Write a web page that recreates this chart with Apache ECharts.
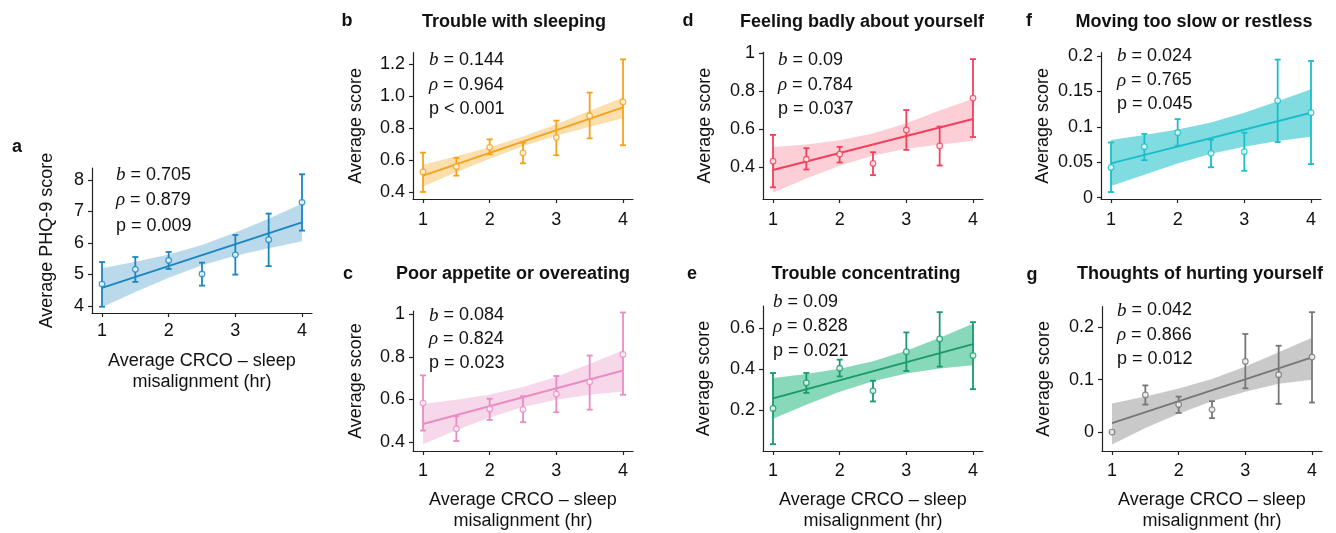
<!DOCTYPE html>
<html>
<head>
<meta charset="utf-8">
<script src="https://cdn.jsdelivr.net/npm/echarts@6/dist/echarts.min.js"></script>
<style>
html,body{margin:0;padding:0;background:#fff;}
#chart{width:1336px;height:533px;}
</style>
</head>
<body>
<div id="chart"></div>
<script>
// ---------- DATA ----------
const xs = [1, 1.5, 2, 2.5, 3, 3.5, 4];
const xTicks = ['1', '2', '3', '4'];
const xName = 'Average CRCO \u2013 sleep\nmisalignment (hr)';

// a: PHQ-9
const meanA = [4.69, 5.16, 5.44, 5.01, 5.62, 6.10, 7.29];
const lowA = [3.97, 4.76, 5.17, 4.64, 4.99, 5.26, 6.39];
const highA = [5.39, 5.55, 5.71, 5.37, 6.25, 6.93, 8.18];
const fitA = [4.57, 6.65];
const bandLoA = [3.95, 4.44, 4.89, 5.29, 5.59, 5.83, 6.05];
const bandHiA = [5.19, 5.40, 5.63, 5.93, 6.33, 6.77, 7.25];
const ticksA = ['4', '5', '6', '7', '8'];
const statsA = ['0.705', '0.879', 'p = 0.009'];

// b: Trouble with sleeping
const meanB = [0.527, 0.560, 0.681, 0.646, 0.742, 0.877, 0.965];
const lowB = [0.402, 0.504, 0.637, 0.581, 0.631, 0.737, 0.694];
const highB = [0.648, 0.615, 0.731, 0.710, 0.848, 1.023, 1.231];
const fitB = [0.504, 0.931];
const bandLoB = [0.436, 0.525, 0.610, 0.688, 0.753, 0.810, 0.862];
const bandHiB = [0.572, 0.625, 0.682, 0.748, 0.825, 0.910, 0.992];
const ticksB = ['0.4', '0.6', '0.8', '1.0', '1.2'];
const statsB = ['0.144', '0.964', 'p < 0.001'];

// c: Poor appetite or overeating
const meanC = [0.583, 0.462, 0.555, 0.553, 0.625, 0.682, 0.811];
const lowC = [0.454, 0.405, 0.504, 0.493, 0.540, 0.552, 0.622];
const highC = [0.713, 0.521, 0.603, 0.615, 0.710, 0.806, 1.008];
const fitC = [0.485, 0.736];
const bandLoC = [0.390, 0.455, 0.515, 0.564, 0.598, 0.622, 0.637];
const bandHiC = [0.579, 0.599, 0.623, 0.658, 0.706, 0.766, 0.831];
const ticksC = ['0.4', '0.6', '0.8', '1'];
const statsC = ['0.084', '0.824', 'p = 0.023'];

// d: Feeling badly about yourself
const meanD = [0.430, 0.440, 0.467, 0.418, 0.594, 0.510, 0.762];
const lowD = [0.292, 0.386, 0.423, 0.356, 0.489, 0.407, 0.557];
const highD = [0.568, 0.498, 0.505, 0.477, 0.699, 0.612, 0.967];
const fitD = [0.383, 0.652];
const bandLoD = [0.264, 0.338, 0.406, 0.460, 0.495, 0.517, 0.536];
const bandHiD = [0.505, 0.518, 0.540, 0.576, 0.629, 0.697, 0.759];
const ticksD = ['0.4', '0.6', '0.8', '1'];
const statsD = ['0.09', '0.784', 'p = 0.037'];

// e: Trouble concentrating
const meanE = [0.208, 0.333, 0.404, 0.294, 0.485, 0.547, 0.466];
const lowE = [0.033, 0.284, 0.364, 0.242, 0.391, 0.412, 0.302];
const highE = [0.381, 0.381, 0.446, 0.343, 0.579, 0.678, 0.629];
const fitE = [0.257, 0.522];
const bandLoE = [0.158, 0.226, 0.289, 0.340, 0.378, 0.403, 0.419];
const bandHiE = [0.357, 0.376, 0.401, 0.438, 0.490, 0.553, 0.621];
const ticksE = ['0.2', '0.4', '0.6'];
const statsE = ['0.09', '0.828', 'p = 0.021'];

// f: Moving too slow or restless
const meanF = [0.0428, 0.072, 0.0918, 0.0626, 0.065, 0.137, 0.120];
const lowF = [0.008, 0.053, 0.0734, 0.043, 0.038, 0.0786, 0.0475];
const highF = [0.078, 0.090, 0.111, 0.082, 0.0918, 0.195, 0.193];
const fitF = [0.0485, 0.120];
const bandLoF = [0.0165, 0.0324, 0.0483, 0.0622, 0.0721, 0.080, 0.086];
const bandHiF = [0.0814, 0.0884, 0.0963, 0.1062, 0.1201, 0.136, 0.153];
const ticksF = ['0', '0.05', '0.1', '0.15', '0.2'];
const statsF = ['0.024', '0.765', 'p = 0.045'];

// g: Thoughts of hurting yourself
const meanG = [0.0, 0.0709, 0.0525, 0.043, 0.1348, 0.1095, 0.143];
const lowG = [0.0, 0.0525, 0.0367, 0.0266, 0.0835, 0.0538, 0.0563];
const highG = [0.0, 0.089, 0.0677, 0.0589, 0.187, 0.1646, 0.2285];
const fitG = [0.0171, 0.1425];
const bandLoG = [-0.0234, 0.008, 0.035, 0.059, 0.077, 0.092, 0.100];
const bandHiG = [0.0544, 0.068, 0.083, 0.101, 0.125, 0.152, 0.180];
const ticksG = ['0', '0.1', '0.2'];
const statsG = ['0.042', '0.866', 'p = 0.012'];

const titles = {
  b: 'Trouble with sleeping', c: 'Poor appetite or overeating',
  d: 'Feeling badly about yourself', e: 'Trouble concentrating',
  f: 'Moving too slow or restless', g: 'Thoughts of hurting yourself'
};

// ---------- LAYOUT / STYLE ----------
const FONT = 'Liberation Sans, Arial, Helvetica, sans-serif';
const FS = 18;
const panels = [
  {id:'a', mean:meanA, low:lowA, high:highA, fit:fitA, bLo:bandLoA, bHi:bandHiA, ticks:ticksA, stats:statsA,
   left:92, top:168, height:145, yMin:3.77, yMax:8.38, color:'#1a86c0', band:'rgba(26,134,192,0.30)',
   yName:'Average PHQ-9 score', yGap:36, xName:true, xLabelMargin:9, xNameGap:38,
   letter:[17,147], statX:116, statY:[175,200,226.5]},
  {id:'b', mean:meanB, low:lowB, high:highB, fit:fitB, bLo:bandLoB, bHi:bandHiB, ticks:ticksB, stats:statsB,
   left:413, top:52.7, height:146.3, yMin:0.358, yMax:1.2725, color:'#f5a21b', band:'rgba(245,162,27,0.35)',
   yName:'Average score', yGap:48, xName:false, xLabelMargin:12,
   letter:[347,21], title:[514,22], statX:429, statY:[60,85,109]},
  {id:'c', mean:meanC, low:lowC, high:highC, fit:fitC, bLo:bandLoC, bHi:bandHiC, ticks:ticksC, stats:statsC,
   left:413, top:311, height:141.3, yMin:0.358, yMax:1.015, color:'#e98cc3', band:'rgba(233,140,195,0.35)',
   yName:'Average score', yGap:48, xName:true, xLabelMargin:11, xNameGap:39,
   letter:[348,274], title:[513,274], statX:429, statY:[315.5,339,363]},
  {id:'d', mean:meanD, low:lowD, high:highD, fit:fitD, bLo:bandLoD, bHi:bandHiD, ticks:ticksD, stats:statsD,
   left:763, top:52.3, height:146.7, yMin:0.2306, yMax:1.003, color:'#f2405c', band:'rgba(242,64,92,0.25)',
   yName:'Average score', yGap:49, xName:false, xLabelMargin:12,
   letter:[688,21], title:[862,22], statX:778, statY:[60,85,109]},
  {id:'e', mean:meanE, low:lowE, high:highE, fit:fitE, bLo:bandLoE, bHi:bandHiE, ticks:ticksE, stats:statsE,
   left:763, top:306, height:145.7, yMin:0.0, yMax:0.708, color:'#1a9a6c', band:'rgba(38,186,128,0.55)',
   yName:'Average score', yGap:50, xName:true, xLabelMargin:11, xNameGap:39,
   letter:[692,274], title:[866,274], statX:773, statY:[302,326.5,351]},
  {id:'f', mean:meanF, low:lowF, high:highF, fit:fitF, bLo:bandLoF, bHi:bandHiF, ticks:ticksF, stats:statsF,
   left:1101, top:52.7, height:146.3, yMin:-0.0018, yMax:0.2047, color:'#19bfc8', band:'rgba(25,191,200,0.55)',
   yName:'Average score', yGap:49, xName:false, xLabelMargin:12,
   letter:[1029,21], title:[1194,22], statX:1117, statY:[56,80.5,104.5]},
  {id:'g', mean:meanG, low:lowG, high:highG, fit:fitG, bLo:bandLoG, bHi:bandHiG, ticks:ticksG, stats:statsG,
   left:1102, top:306.7, height:145, yMin:-0.036, yMax:0.239, color:'#777777', band:'rgba(120,120,120,0.40)',
   yName:'Average score', yGap:49, xName:true, xLabelMargin:11, xNameGap:39,
   letter:[1032,275], title:[1200,274], statX:1117, statY:[310.5,335,359]}
];

const AXIS_COLOR = '#222';
const grid = [], xAxis = [], yAxis = [], series = [], graphic = [];

panels.forEach((p, i) => {
  grid.push({left:p.left, top:p.top, width:220, height:p.height, containLabel:false});
  xAxis.push({
    type:'value', gridIndex:i, min:0.85, max:4.15,
    axisLine:{show:true, onZero:false, lineStyle:{color:AXIS_COLOR, width:1.2}},
    axisTick:{show:true, length:4, lineStyle:{color:AXIS_COLOR, width:1.2}, customValues:xTicks.map(Number)},
    axisLabel:{show:true, margin:p.xLabelMargin, fontFamily:FONT, fontSize:FS, color:'#111',
      customValues:xTicks.map(Number),
      formatter:(v)=>{const s=xTicks.find(t=>Math.abs(Number(t)-v)<1e-9); return s===undefined?'':s;}},
    splitLine:{show:false},
    name:p.xName ? xName : '', nameLocation:'middle', nameGap:p.xNameGap || 30,
    nameTextStyle:{fontFamily:FONT, fontSize:FS, color:'#111', lineHeight:21}
  });
  const tk = p.ticks;
  yAxis.push({
    type:'value', gridIndex:i, min:p.yMin, max:p.yMax,
    axisLine:{show:true, onZero:false, lineStyle:{color:AXIS_COLOR, width:1.2}},
    axisTick:{show:true, length:4, lineStyle:{color:AXIS_COLOR, width:1.2}, customValues:tk.map(Number)},
    axisLabel:{show:true, margin:8, fontFamily:FONT, fontSize:FS, color:'#111',
      customValues:tk.map(Number),
      formatter:(v)=>{const s=tk.find(t=>Math.abs(Number(t)-v)<1e-9); return s===undefined?'':s;}},
    splitLine:{show:false},
    name:p.yName, nameLocation:'middle', nameGap:p.yGap,
    nameTextStyle:{fontFamily:FONT, fontSize:FS, color:'#111'}
  });

  // confidence band
  series.push({
    type:'custom', xAxisIndex:i, yAxisIndex:i, z:1, silent:true,
    data:[[xs[0], p.bLo[0]]],
    renderItem:(params, api) => {
      const pts = [];
      for (let k = 0; k < xs.length; k++) pts.push(api.coord([xs[k], p.bHi[k]]));
      for (let k = xs.length - 1; k >= 0; k--) pts.push(api.coord([xs[k], p.bLo[k]]));
      return {type:'polygon', shape:{points:pts}, style:{fill:p.band, stroke:null}};
    }
  });
  // regression line
  series.push({
    type:'line', xAxisIndex:i, yAxisIndex:i, z:2, silent:true,
    data:[[1, p.fit[0]], [4, p.fit[1]]],
    showSymbol:false, lineStyle:{color:p.color, width:2}
  });
  // error bars
  series.push({
    type:'custom', xAxisIndex:i, yAxisIndex:i, z:3, silent:true,
    data:xs.map((x, k) => [x, p.low[k], p.high[k]]),
    encode:{x:0, y:[1, 2]},
    renderItem:(params, api) => {
      const x = api.value(0);
      const a = api.coord([x, api.value(1)]);
      const b = api.coord([x, api.value(2)]);
      const st = {stroke:p.color, lineWidth:1.8};
      return {type:'group', children:[
        {type:'line', shape:{x1:a[0], y1:a[1], x2:b[0], y2:b[1]}, style:st},
        {type:'line', shape:{x1:a[0]-3, y1:a[1], x2:a[0]+3, y2:a[1]}, style:st},
        {type:'line', shape:{x1:b[0]-3, y1:b[1], x2:b[0]+3, y2:b[1]}, style:st}
      ]};
    }
  });
  // mean points
  series.push({
    type:'scatter', xAxisIndex:i, yAxisIndex:i, z:4, silent:true,
    data:xs.map((x, k) => [x, p.mean[k]]),
    symbol:'circle', symbolSize:5.5,
    itemStyle:{color:'#fff', borderColor:p.color, borderWidth:1.3}
  });

  // panel letter
  graphic.push({type:'text', x:p.letter[0], y:p.letter[1],
    style:{text:p.id, font:'bold 18px ' + FONT, fill:'#111', textAlign:'center', textVerticalAlign:'middle'}});
  if (p.title) {
    graphic.push({type:'text', x:p.title[0], y:p.title[1],
      style:{text:titles[p.id], font:'bold 18px ' + FONT, fill:'#111', textAlign:'center', textVerticalAlign:'middle'}});
  }
  // stats
  const symbols = ['b', '\u03c1'];
  for (let r = 0; r < 3; r++) {
    const txt = r < 2 ? '{i|' + symbols[r] + '}{n| = ' + p.stats[r] + '}' : '{n|' + p.stats[2] + '}';
    graphic.push({type:'text', x:p.statX, y:p.statY[r],
      style:{text:txt, textAlign:'left', textVerticalAlign:'middle',
        rich:{
          i:{fontFamily:'Liberation Serif, DejaVu Serif, serif', fontStyle:'italic', fontSize:19, fill:'#111', color:'#111'},
          n:{fontFamily:FONT, fontSize:18, fill:'#111', color:'#111'}
        }}});
  }
});

const chart = echarts.init(document.getElementById('chart'), null, {renderer:'canvas'});
chart.setOption({
  animation:false,
  backgroundColor:'#fff',
  grid, xAxis, yAxis, series, graphic
});
</script>
</body>
</html>
